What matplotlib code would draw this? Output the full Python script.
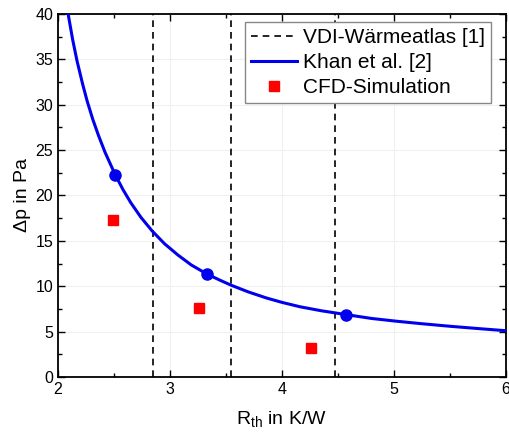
import matplotlib
matplotlib.use("Agg")
import matplotlib.pyplot as plt
from matplotlib.ticker import MultipleLocator

plt.rcParams['font.family'] = ['Liberation Sans', 'DejaVu Sans']

# VDI-Waermeatlas limits (vertical lines)
vdi_x = [2.845, 3.545, 4.47]

# Khan et al. curve
khan_x = [2.05, 2.09, 2.13, 2.17, 2.22, 2.26, 2.31, 2.36, 2.42, 2.51, 2.58, 2.65, 2.74,
          2.84, 2.95, 3.07, 3.19, 3.33, 3.45, 3.55, 3.70, 3.86, 4.00, 4.16, 4.35,
          4.57, 4.80, 5.02, 5.25, 5.50, 5.75, 6.00]
khan_y = [43.1, 40.0, 37.2, 34.8, 32.25, 30.4, 28.4, 26.65, 24.75, 22.3, 20.65, 19.2, 17.6,
          16.1, 14.7, 13.45, 12.35, 11.35, 10.65, 10.1, 9.38, 8.72, 8.23, 7.75, 7.31,
          6.89, 6.46, 6.16, 5.88, 5.6, 5.35, 5.11]

# Khan et al. marked points
khan_pts_x = [2.51, 3.33, 4.575]
khan_pts_y = [22.3, 11.38, 6.85]

# CFD simulation results
cfd_x = [2.494, 3.262, 4.259]
cfd_y = [17.3, 7.64, 3.16]

fig = plt.figure(figsize=(5.09, 4.32), dpi=100)
ax = fig.add_axes([0.114, 0.127, 0.880, 0.841])

for i, xv in enumerate(vdi_x):
    ax.axvline(xv, color='black', ls=(0, (4, 3)), lw=1.2,
               label='VDI-Wärmeatlas [1]' if i == 0 else None, zorder=2)

ax.plot(khan_x, khan_y, color='#0000ee', lw=2.2, label='Khan et al. [2]', zorder=3)
ax.plot(khan_pts_x, khan_pts_y, 'o', color='#0000ee', ms=8, zorder=4)
ax.plot(cfd_x, cfd_y, 's', color='#ff0000', ms=6.5, ls='none',
        label='CFD-Simulation', zorder=4)

ax.set_xlim(2, 6)
ax.set_ylim(0, 40)
ax.xaxis.set_major_locator(MultipleLocator(1))
ax.xaxis.set_minor_locator(MultipleLocator(0.5))
ax.yaxis.set_major_locator(MultipleLocator(5))
ax.yaxis.set_minor_locator(MultipleLocator(2.5))
ax.tick_params(which='both', direction='in', top=True, right=True, labelsize=11.5)
ax.tick_params(which='major', length=5, width=1)
ax.tick_params(which='minor', length=3, width=1)
ax.grid(True, which='major', color='#f0f0f0', lw=0.8, zorder=0)
for s in ax.spines.values():
    s.set_linewidth(1.3)

ax.set_xlabel('R$_\\mathregular{th}$ in K/W', fontsize=14, labelpad=9)
ax.set_ylabel('Δp in Pa', fontsize=14, labelpad=3)

leg = ax.legend(loc='upper right', bbox_to_anchor=(0.967, 0.977), fontsize=15,
                fancybox=False, framealpha=1, edgecolor='#888888',
                handlelength=2.2, handletextpad=0.3, labelspacing=0.28,
                borderpad=0.3, borderaxespad=0)
leg.get_frame().set_linewidth(1.0)

fig.savefig('out.png', dpi=100)
